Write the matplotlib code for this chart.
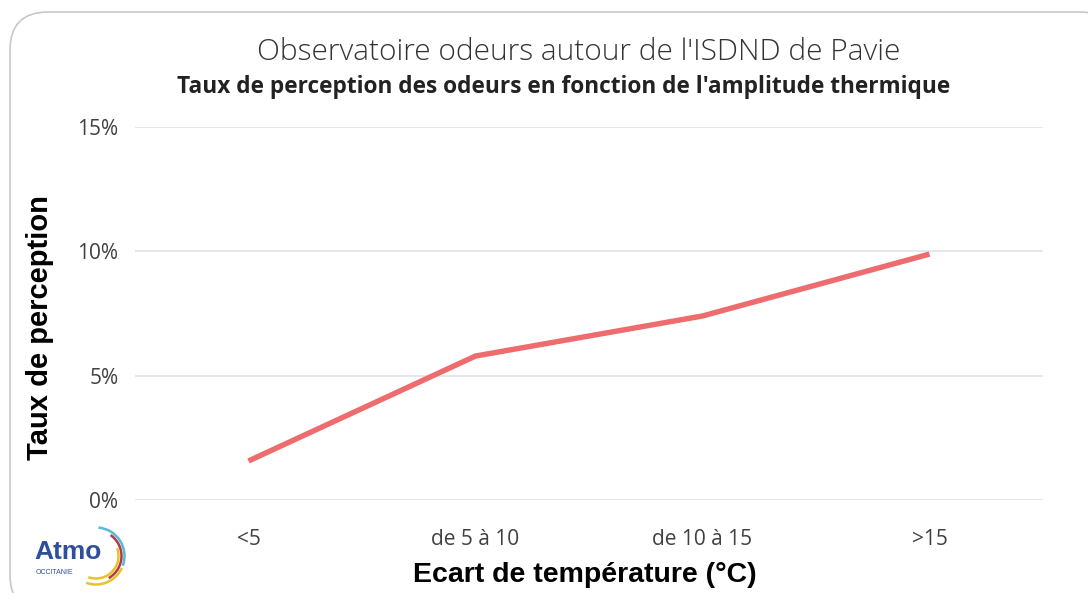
import matplotlib.pyplot as plt
from matplotlib.patches import FancyBboxPatch, Arc
from matplotlib.ticker import FuncFormatter

categories = ['<5', 'de 5 à 10', 'de 10 à 15', '>15']
taux = [1.57, 5.79, 7.40, 9.89]  # %
y_ticks = [0, 5, 10, 15]

W, H = 1088, 593
fig = plt.figure(figsize=(W / 100, H / 100), dpi=100)

# rounded card border
card = FancyBboxPatch((10 / W, -20 / H), (W + 20) / W, (H - 12 + 20) / H,
                      boxstyle='round,pad=0,rounding_size=0.035',
                      transform=fig.transFigure, facecolor='white',
                      edgecolor='#c8c8c8', linewidth=1.2, mutation_aspect=W / H,
                      zorder=-5)
fig.patches.append(card)

ax = fig.add_axes([135 / W, 1 - 500 / H, (1043 - 135) / W, (500 - 127) / H])
ax.patch.set_alpha(0)
ax.plot(range(len(categories)), taux, color='#EE6B6E', linewidth=3.9,
        solid_capstyle='butt', zorder=3)

ax.set_xlim(-0.5, len(categories) - 0.5)
ax.set_ylim(0, 15)
ax.set_yticks(y_ticks)
ax.yaxis.set_major_formatter(FuncFormatter(lambda v, p: f'{v:.0f}%'))
ax.set_xticks(range(len(categories)))
ax.set_xticklabels(categories)
ax.grid(axis='y', color='#e3e3e3', linewidth=1.2)
ax.set_axisbelow(True)
for s in ax.spines.values():
    s.set_visible(False)
ax.tick_params(length=0, labelsize=15, labelcolor='#404040')
for lab in ax.get_xticklabels() + ax.get_yticklabels():
    lab.set_fontfamily('Open Sans')
ax.tick_params(axis='x', pad=21)
ax.tick_params(axis='y', pad=12)

ax.set_xlabel('Ecart de température (°C)', fontsize=20.5, fontweight='bold',
              fontfamily='Liberation Sans', va='center')
ax.set_ylabel('Taux de perception', fontsize=21, fontweight='bold',
              fontfamily='Liberation Sans', va='center')
ax.xaxis.set_label_coords(0.495, -0.201)
ax.yaxis.set_label_coords(-0.105, 0.461)

fig.text(579 / W, 1 - 52 / H, "Observatoire odeurs autour de l'ISDND de Pavie",
         ha='center', va='center', fontsize=21.5, fontfamily='Open Sans',
         fontweight='light', color='#333333')
fig.text(564 / W, 1 - 87 / H, "Taux de perception des odeurs en fonction de l'amplitude thermique",
         ha='center', va='center', fontsize=16.3, fontfamily='Open Sans',
         fontweight='bold', color='#222222')

# Atmo Occitanie logo
fig.text(34 / W, 1 - 552 / H, 'Atmo', fontsize=19, fontweight='bold',
         fontfamily='Liberation Sans', color='#2d4f9e', va='center', ha='left')
fig.text(36 / W, 1 - 573 / H, 'OCCITANIE', fontsize=5,
         fontfamily='Liberation Sans', color='#2d4f9e', va='center', ha='left')
logo = fig.add_axes([66 / W, 1 - 586 / H, 60 / W, 60 / H])
logo.set_xlim(-1, 1)
logo.set_ylim(-1, 1)
logo.set_aspect('equal')
logo.axis('off')
for r, c, t1, t2 in [(0.95, '#5bb8d6', -20, 85), (0.85, '#b03a48', -60, 55),
                     (0.75, '#e8c22a', -110, 20), (0.95, '#e8c22a', -110, -25)]:
    logo.add_patch(Arc((0, 0), 2 * r, 2 * r, theta1=t1, theta2=t2, color=c, linewidth=1.8))

fig.savefig('out.png', dpi=100)
